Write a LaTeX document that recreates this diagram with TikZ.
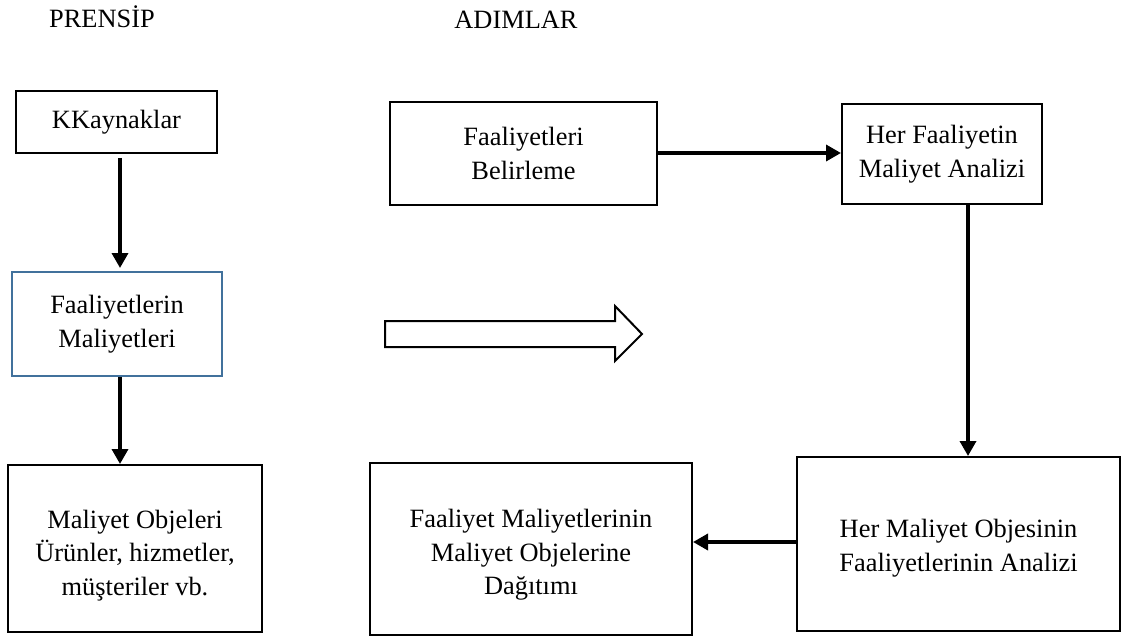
\documentclass[tikz,border=0pt]{standalone}
\usepackage{fontspec}
\setmainfont{Liberation Serif}
\usetikzlibrary{arrows.meta}
\definecolor{boxblue}{HTML}{41719C}
\begin{document}
\begin{tikzpicture}[x=1pt,y=-1pt,
  box/.style={draw=black,line width=2pt,rectangle,align=center,inner sep=0pt,
    font=\fontsize{26.4}{33.5}\selectfont},
  txt/.style={align=center,inner sep=0pt,font=\fontsize{26.4}{33.5}\selectfont},
  conn/.style={line width=3.5pt,-{Triangle[length=15pt,width=16pt]}},
  head/.style={font=\fontsize{26.4}{33}\selectfont,anchor=base}]
\useasboundingbox (0,0) rectangle (1121,639);
\node[head] (h1) at (102,28) {PRENSİP};
\node[head] (h2) at (516,29) {ADIMLAR};
% left column
\node[box,minimum width=201pt,minimum height=62pt] (kay) at (116.5,122) {KKaynaklar};
\node[box,draw=boxblue,minimum width=210pt,minimum height=104pt] (fm) at (117,324) {Faaliyetlerin\\Maliyetleri};
\node[box,minimum width=254pt,minimum height=167pt] (mo) at (135,548.5) {};
\node[txt] (mot) at ([yshift=-7pt]mo.center) {Maliyet Objeleri\\Ürünler, hizmetler,\\müşteriler vb.};
\draw[conn] (kay.south -| 120,0) ++(0,4) -- (120,268);
\draw[conn] (120,377) -- (120,464);
% fat arrow
\draw[line width=2pt,line join=miter] (385,321) coordinate (fa1) -- (615,321) -- (615,306) -- (642,334) -- (615,361) -- (615,347) -- (385,347) -- cycle;
% right part
\node[box,minimum width=267pt,minimum height=103pt] (fb) at (523.5,153.5) {Faaliyetleri\\Belirleme};
\node[box,minimum width=200pt,minimum height=100pt] (hf) at (942,154) {Her Faaliyetin\\Maliyet Analizi};
\node[box,minimum width=323pt,minimum height=174pt] (hm) at (958.5,544) {};
\node[txt] (hmt) at ([yshift=-4pt]hm.center) {Her Maliyet Objesinin\\Faaliyetlerinin Analizi};
\node[box,minimum width=322pt,minimum height=172pt] (fd) at (531,549) {};
\node[txt] (fdt) at ([yshift=-6pt]fd.center) {Faaliyet Maliyetlerinin\\Maliyet Objelerine\\Dağıtımı};
\draw[conn] (fb.east |- 0,153) -- (hf.west |- 0,153);
\draw[conn] (968,205) -- (hm.north -| 968,0);
\draw[conn] (hm.west |- 0,542) -- (fd.east |- 0,542);
\end{tikzpicture}
\end{document}
